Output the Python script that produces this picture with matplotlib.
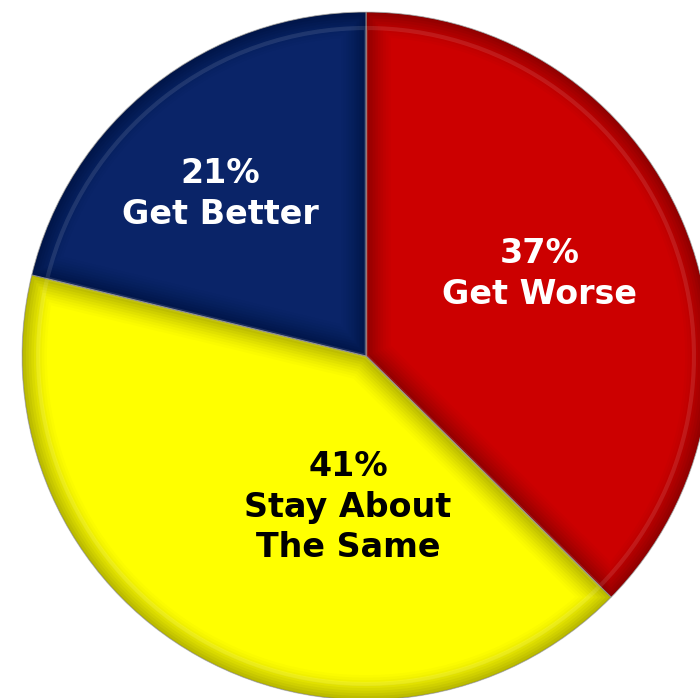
import numpy as np
import matplotlib.pyplot as plt
from matplotlib.patches import Wedge

# survey answers, clockwise from 12 o'clock
labels = ["Get Worse", "Stay About\nThe Same", "Get Better"]
values = [37, 41, 21]
colors = ["#cc0000", "#ffff00", "#0a2468"]
text_colors = ["white", "black", "white"]

# label centres in pixel coords (x, y from top)
label_pos = [(540, 274), (348, 507), (220, 194)]

W, H = 700, 698
fig = plt.figure(figsize=(W / 100, H / 100), dpi=100)
ax = fig.add_axes([0, 0, 1, 1])

cx, cy, r = 366, H - 356, 344

wedges, _ = ax.pie(values, colors=colors, startangle=90, counterclock=False,
                   center=(cx, cy), radius=r,
                   wedgeprops=dict(edgecolor="#d0d0d0", linewidth=0.7))

# fake bevel: soft darkening strokes clipped to each wedge
for w in wedges:
    for lw, a in zip(np.linspace(36, 2, 10), np.linspace(0.015, 0.05, 10)):
        edge = Wedge(w.center, w.r, w.theta1, w.theta2, fill=False,
                     edgecolor="black", linewidth=lw, alpha=a)
        edge.set_clip_path(w)
        ax.add_patch(edge)
    hi = Wedge(w.center, w.r - 16, w.theta1, w.theta2, fill=False,
               edgecolor="white", linewidth=3, alpha=0.10)
    hi.set_clip_path(w)
    ax.add_patch(hi)

for val, lab, (x, y), tc in zip(values, labels, label_pos, text_colors):
    ax.text(x, H - y, f"{val}%\n{lab}", ha="center", va="center",
            color=tc, fontsize=24, fontweight="bold",
            family="DejaVu Sans", linespacing=1.3)

ax.set_xlim(0, W)
ax.set_ylim(0, H)
ax.set_aspect("equal")
ax.axis("off")

fig.savefig("out.png", dpi=100)
